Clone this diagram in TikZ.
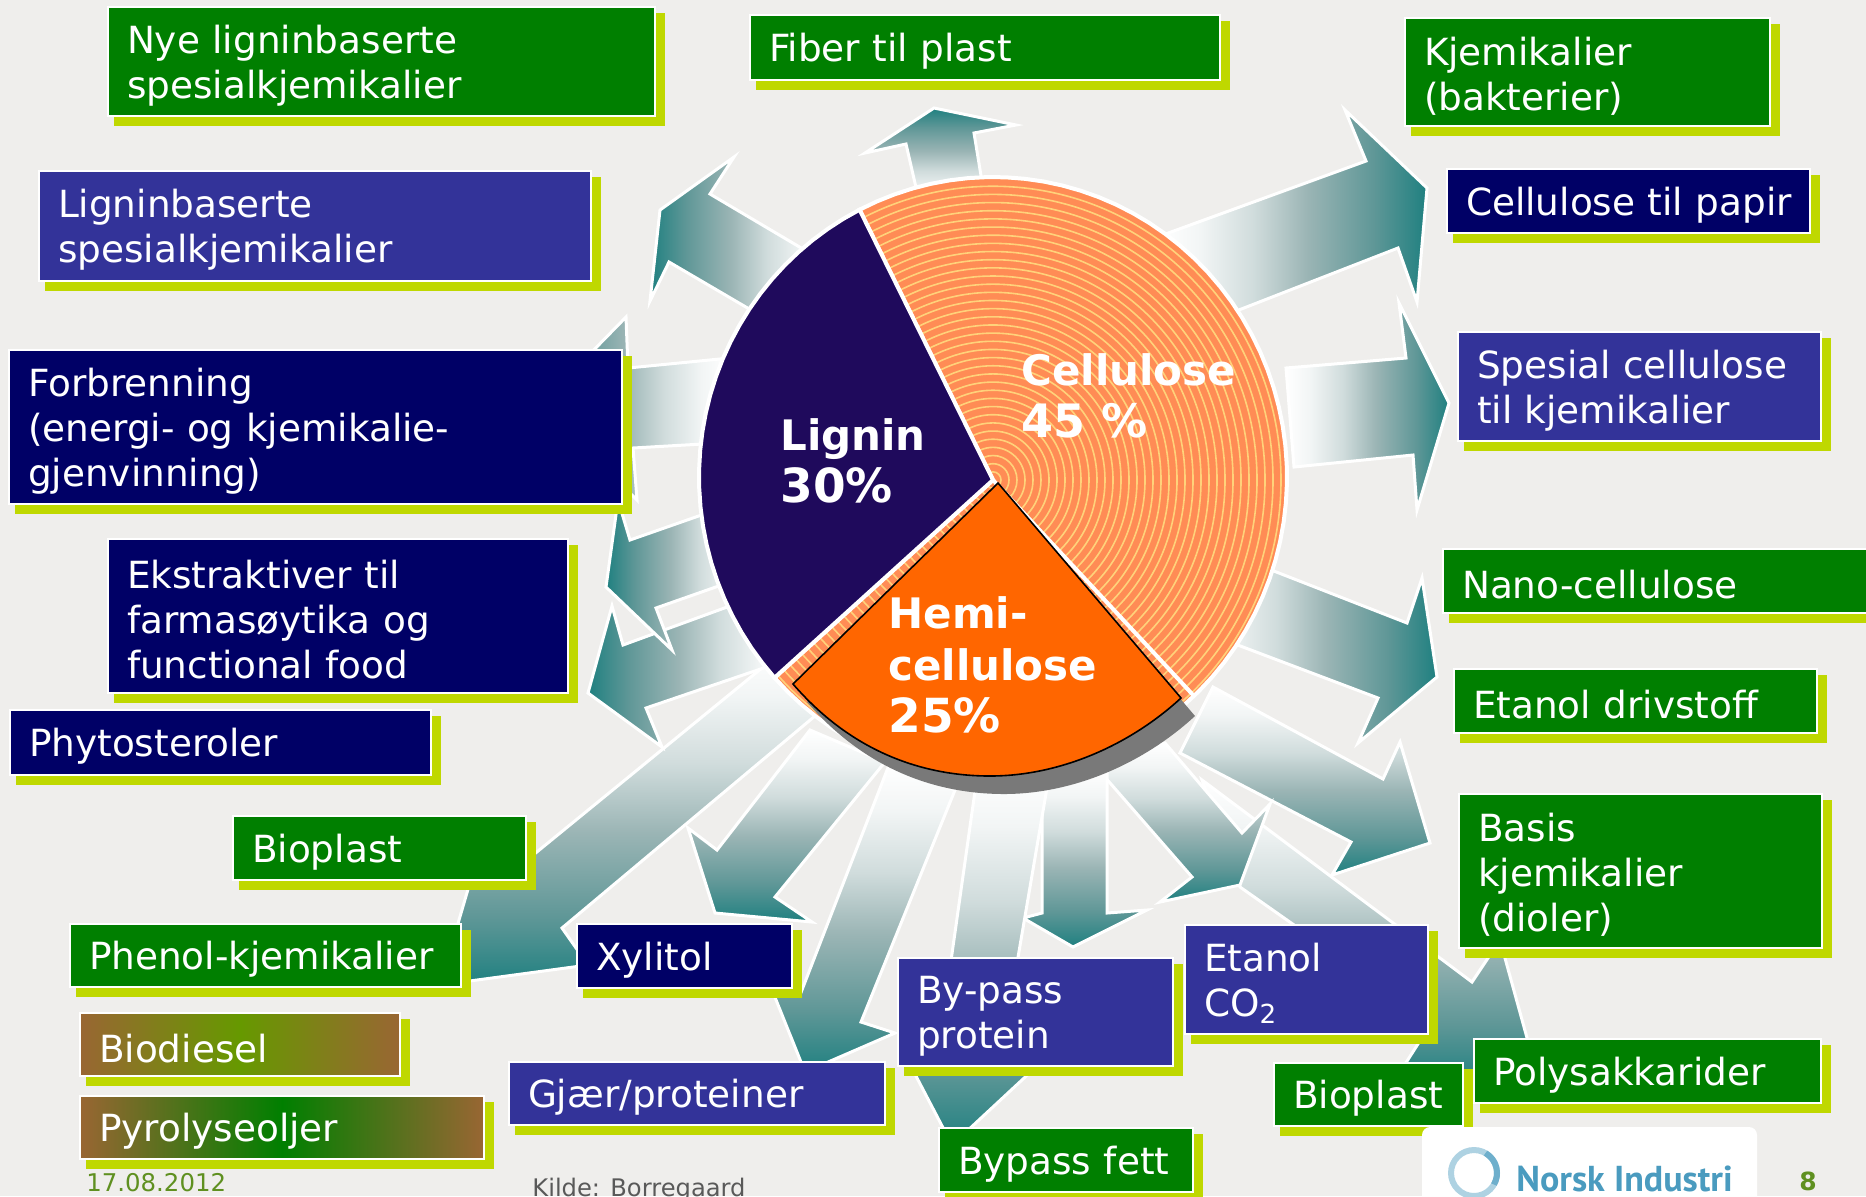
\documentclass[tikz,border=0pt]{standalone}
\usepackage{fontspec}
\setmainfont{DejaVu Sans}
\newfontfamily\logofont{PT Sans}
\usetikzlibrary{shadows}
\definecolor{pPaper}{HTML}{EFEEEC}
\definecolor{pGreen}{HTML}{007F00}
\definecolor{pNavy}{HTML}{000066}
\definecolor{pBlue}{HTML}{333399}
\definecolor{pLime}{HTML}{BFD800}
\definecolor{pTeal}{HTML}{1F8080}
\definecolor{pFadeA}{HTML}{5F9797}
\definecolor{pFadeB}{HTML}{9BB5B5}
\definecolor{pFadeC}{HTML}{D0DCDC}
\definecolor{pFadeD}{HTML}{F2F5F5}
\definecolor{pBrown}{HTML}{996633}
\definecolor{pOlive}{HTML}{669900}
\definecolor{pLignin}{HTML}{1F0A5C}
\definecolor{pCell}{HTML}{FF8C55}
\definecolor{pRing}{HTML}{FFD27A}
\definecolor{pHemi}{HTML}{FF6600}
\definecolor{pDate}{HTML}{5F9020}
\definecolor{pLogo}{HTML}{4A9BBF}
\pgfdeclareverticalshading{flowfade}{100bp}{color(0bp)=(pTeal); color(25bp)=(pTeal);
  color(35bp)=(pFadeA); color(47.5bp)=(pFadeB); color(57.5bp)=(pFadeC);
  color(67.5bp)=(pFadeD); color(75bp)=(white); color(100bp)=(white)}

\begin{document}
\begin{tikzpicture}[
  x=0.5pt, y=-0.5pt,
  flow/.style={draw=white, line width=1.5pt, miter limit=10, shade, shading=flowfade},
  tipup/.style={flow, shading angle=180},
  tipdown/.style={flow, shading angle=0},
  tipleft/.style={flow, shading angle=-90},
  tipright/.style={flow, shading angle=90},
  card/.style 2 args={anchor=north west, rectangle, draw=white, line width=0.9pt,
    minimum width=#1*0.5pt, minimum height=#2*0.5pt, text width=#1*0.5pt-19pt,
    inner xsep=9.5pt, inner ysep=0pt, outer sep=0pt, align=left, text=white,
    font=\fontsize{18.7}{22.5}\selectfont, execute at begin node={\rule{0pt}{18pt}},
    drop shadow={shadow xshift=4pt, shadow yshift=-4pt, fill=pLime, draw=pLime, line width=2pt, opacity=1}},
  green/.style={fill=pGreen},
  navy/.style={fill=pNavy},
  blue/.style={fill=pBlue},
  slice/.style={anchor=west, align=left, text=white, inner sep=0pt,
    font=\fontsize{21}{26}\selectfont\bfseries},
]
\useasboundingbox (0,0) rectangle (1866,1196);
\fill[pPaper] (0,0) rectangle (1866,1196);

% arrows round the pie
\path[tipup] (920,205) -- (906,144) -- (865,153) -- (934,108) -- (1016,125) -- (974,133) -- (985,200) -- cycle;
\path[tipleft] (830,265) -- (710,194) -- (734,157) -- (660,210) -- (650,301) -- (669,262) -- (780,327) -- cycle;
\path[tipright] (1160,236) -- (1366,161) -- (1345,110) -- (1427,188) -- (1417,302) -- (1398,248) -- (1190,329) -- cycle;
\path[tipright] (1286,368) -- (1406,358) -- (1399,303) -- (1449,403) -- (1417,510) -- (1413,455) -- (1294,467) -- cycle;
\path[tipright] (1220,550) -- (1407,623) -- (1422,578) -- (1437,677) -- (1358,743) -- (1378,698) -- (1190,627) -- cycle;
\path[tipdown] (1213,687) -- (1383,779) -- (1400,742) -- (1430,843) -- (1332,875) -- (1351,842) -- (1180,753) -- cycle;
\path[tipdown] (1202,780) -- (1472,982) -- (1500,940) -- (1540,1085) -- (1400,1072) -- (1432,1022) -- (1240,887) -- cycle;
\path[tipdown] (1090,760) -- (1192,877) -- (1160,902) -- (1240,885) -- (1270,804) -- (1242,833) -- (1165,743) -- cycle;
\path[tipdown] (1042,770) -- (1107,770) -- (1107,913) -- (1147,910) -- (1073,947) -- (1023,918) -- (1042,913) -- cycle;
\path[tipdown] (978,770) -- (1050,770) -- (1009,1010) -- (1065,1040) -- (952,1145) -- (905,1055) -- (944,1010) -- cycle;
\path[tipdown] (889,765) -- (955,790) -- (861,1022) -- (895,1033) -- (805,1072) -- (762,965) -- (800,995) -- cycle;
\path[tipdown] (810,730) -- (885,762) -- (775,897) -- (812,922) -- (715,913) -- (688,828) -- (717,850) -- cycle;
\path[tipdown] (790,645) -- (840,695) -- (562,928) -- (588,965) -- (440,985) -- (478,855) -- (505,878) -- cycle;
\path[tipleft] (760,595) -- (623,645) -- (612,606) -- (588,693) -- (662,747) -- (646,708) -- (790,659) -- cycle;
\path[tipleft] (730,505) -- (630,540) -- (618,500) -- (606,587) -- (672,650) -- (656,608) -- (750,575) -- cycle;
\path[tipleft] (730,358) -- (628,368) -- (626,317) -- (540,405) -- (637,500) -- (633,448) -- (720,443) -- cycle;

% pie: rings in the cellulose part
\fill[pCell] (993,480) -- plot[domain=243:498, samples=70] ({993+294*cos(\x)},{477+300*sin(\x)}) -- cycle;
\begin{scope}
  \clip (993,480) -- plot[domain=243:498, samples=70] ({993+294*cos(\x)},{477+300*sin(\x)}) -- cycle;
  \foreach \r in {8,16,...,296}
    \draw[pRing, line width=0.8pt] (993,480) ellipse [x radius=\r, y radius=1.02*\r];
\end{scope}
\draw[white, line width=2pt] (993,480) -- plot[domain=243:498, samples=70] ({993+294*cos(\x)},{477+300*sin(\x)}) -- cycle;
\draw[white, line width=2pt, fill=pLignin] (993,480) -- plot[domain=243:138, samples=30] ({993+294*cos(\x)},{477+300*sin(\x)}) -- cycle;
\fill[gray!95!black, shift={(14,18)}] (998,483) -- (793,684) .. controls (850,750) and (920,776) .. (990,776) .. controls (1060,776) and (1130,745) .. (1181,698) -- cycle;
\draw[white, line width=2pt] (993,480) -- (1194,696);
\draw[black, line width=0.8pt, fill=pHemi] (998,483) -- (793,684) .. controls (850,750) and (920,776) .. (990,776) .. controls (1060,776) and (1130,745) .. (1181,698) -- cycle;

\node[slice] (cellulose) at (1021,396) {Cellulose\\{\fontsize{23}{26}\selectfont 45 \%}};
\node[slice] (lignin) at (780,461) {Lignin\\{\fontsize{23.5}{26}\selectfont 30\%}};
\node[slice] (hemi) at (888,665) {Hemi-\\cellulose\\{\fontsize{23.5}{26}\selectfont 25\%}};

% boxes, top row first
\node[card={547}{109}, green] (nye) at (108,7) {Nye ligninbaserte\\spesialkjemikalier};
\node[card={470}{65}, green] (fiber) at (750,15) {Fiber til plast};
\node[card={365}{108}, green] (kjem) at (1405,18) {Kjemikalier\\(bakterier)};
\node[card={552}{110}, blue] (ligninb) at (39,171) {Ligninbaserte\\spesialkjemikalier};
\node[card={363}{64}, navy] (papir) at (1447,169) {\mbox{Cellulose til papir}};
\node[card={363}{109}, blue] (spesial) at (1458,332) {Spesial cellulose\\til kjemikalier};
\node[card={613}{154}, navy] (forbr) at (9,350) {Forbrenning\\(energi- og kjemikalie-\\gjenvinning)};
\node[card={460}{154}, navy] (ekstr) at (108,539) {Ekstraktiver til\\farmasøytika og\\functional food};
\node[card={430}{64}, green] (nano) at (1443,549) {Nano-cellulose};
\node[card={363}{64}, green] (etanold) at (1454,669) {Etanol drivstoff};
\node[card={421}{65}, navy] (phyto) at (10,710) {Phytosteroler};
\node[card={363}{154}, green] (basis) at (1459,794) {Basis\\kjemikalier\\(dioler)};
\node[card={293}{64}, green] (bioL) at (233,816) {Bioplast};
\node[card={391}{63}, green] (phenol) at (70,924) {Phenol-kjemikalier};
\node[card={215}{64}, navy] (xylitol) at (577,924) {Xylitol};
\node[card={243}{109}, blue] (etanolc) at (1185,925) {Etanol\\CO\textsubscript{2}};
\node[card={275}{108}, blue] (bypass) at (898,958) {By-pass\\protein};
\node[card={320}{63}, shade, left color=pBrown, right color=pBrown, middle color=pOlive] (biodiesel) at (80,1013) {Biodiesel};
\node[card={347}{64}, green] (poly) at (1474,1039) {Polysakkarider};
\node[card={376}{63}, blue] (gjaer) at (509,1062) {Gjær/proteiner};
\node[card={189}{63}, green] (bioR) at (1274,1063) {Bioplast};
\node[card={404}{63}, shade, left color=pBrown, right color=pBrown, middle color=pGreen] (pyrolyse) at (80,1096) {Pyrolyseoljer};
\node[card={254}{64}, green] (fett) at (939,1128) {Bypass fett};

% footer and logo
\node[anchor=west, inner sep=0pt, text=pDate, font=\fontsize{12.2}{14}\selectfont] (dato) at (86,1183) {17.08.2012};
\node[anchor=west, inner sep=0pt, text=black!65, font=\fontsize{12.1}{14}\selectfont] (kilde) at (532,1190) {Kilde: Borregaard};
\fill[white, rounded corners=4pt] (1422,1127) rectangle (1757,1210);
\draw[pLogo!45, line width=3pt] (1474,1173) circle [radius=23];
\draw[pLogo!80, line width=3pt] (1474,1173) ++(-60:23) arc (-60:30:23);
\node[anchor=west, inner sep=0pt, text=pLogo, font=\logofont\bfseries\fontsize{18}{20}\selectfont] (logo) at (1516,1179) {Norsk Industri};
\node[inner sep=0pt, text=pDate, font=\fontsize{12.5}{14}\selectfont\bfseries] (side) at (1808,1181) {8};
\end{tikzpicture}
\end{document}
